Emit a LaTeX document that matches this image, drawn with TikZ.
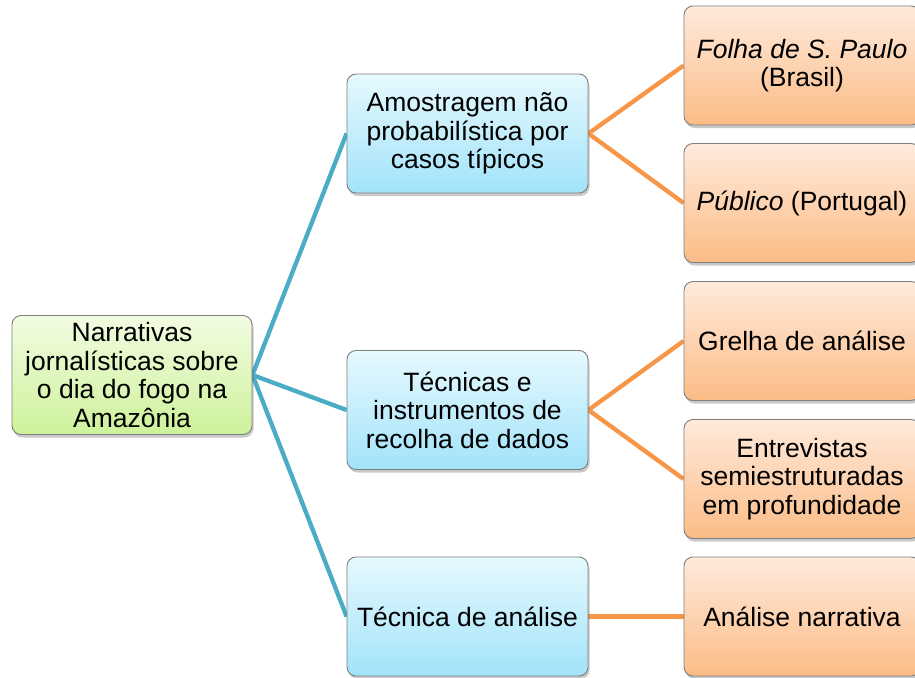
\documentclass[tikz,border=0pt]{standalone}
\usepackage{fontspec}
\setmainfont{Liberation Sans}
\usetikzlibrary{shadows,backgrounds}
\definecolor{lnblue}{HTML}{4BACC6}
\definecolor{lnorange}{HTML}{F79646}
\definecolor{gtop}{HTML}{F2FCE2}
\definecolor{gbot}{HTML}{CDF29A}
\definecolor{btop}{HTML}{E6F9FE}
\definecolor{bbot}{HTML}{A2E3FA}
\definecolor{otop}{HTML}{FFEADC}
\definecolor{obot}{HTML}{FBBC86}
\definecolor{bord}{HTML}{7F7F7F}
\begin{document}
\begin{tikzpicture}[x=1pt,y=-1pt,
  box/.style={draw=bord, line width=0.9pt, rounded corners=9pt,
    minimum height=119pt, inner sep=2pt, align=center,
    font=\fontsize{26.5}{28.5}\selectfont,
    drop shadow={shadow xshift=1.5pt, shadow yshift=-3pt, opacity=0.35, fill=black!60}},
  rootbox/.style={box, minimum width=240pt, top color=gtop, bottom color=gbot},
  midbox/.style={box, minimum width=241pt, top color=btop, bottom color=bbot},
  leafbox/.style={box, minimum width=236pt, top color=otop, bottom color=obot},
  blueline/.style={draw=lnblue, line width=4.3pt},
  orangeline/.style={draw=lnorange, line width=4.3pt}]
\useasboundingbox (0,0) rectangle (915,677);
\node[rootbox] (root) at (132,375) {Narrativas\\jornalísticas sobre\\o dia do fogo na\\Amazônia};
\node[midbox] (m1) at (467.5,133.5) {Amostragem não\\probabilística por\\casos típicos};
\node[midbox] (m2) at (467.5,410) {Técnicas e\\instrumentos de\\recolha de dados};
\node[midbox] (m3) at (467.5,616.5) {Técnica de análise};
\node[leafbox] (r1) at (802,65.5) {\textit{Folha de S. Paulo}\\(Brasil)};
\node[leafbox] (r2) at (802,203) {\textit{Público} (Portugal)};
\node[leafbox] (r3) at (802,341) {Grelha de análise};
\node[leafbox] (r4) at (802,479) {Entrevistas\\semiestruturadas\\em profundidade};
\node[leafbox] (r5) at (802,616.5) {Análise narrativa};
\begin{scope}[on background layer]
\fill[white] (0,0) rectangle (915,677);
\draw[blueline] (root.east) -- (m1.west);
\draw[blueline] (root.east) -- (m2.west);
\draw[blueline] (root.east) -- (m3.west);
\draw[orangeline] (m1.east) -- (r1.west);
\draw[orangeline] (m1.east) -- (r2.west);
\draw[orangeline] (m2.east) -- (r3.west);
\draw[orangeline] (m2.east) -- (r4.west);
\draw[orangeline] (m3.east) -- (r5.west);
\end{scope}
\end{tikzpicture}
\end{document}
